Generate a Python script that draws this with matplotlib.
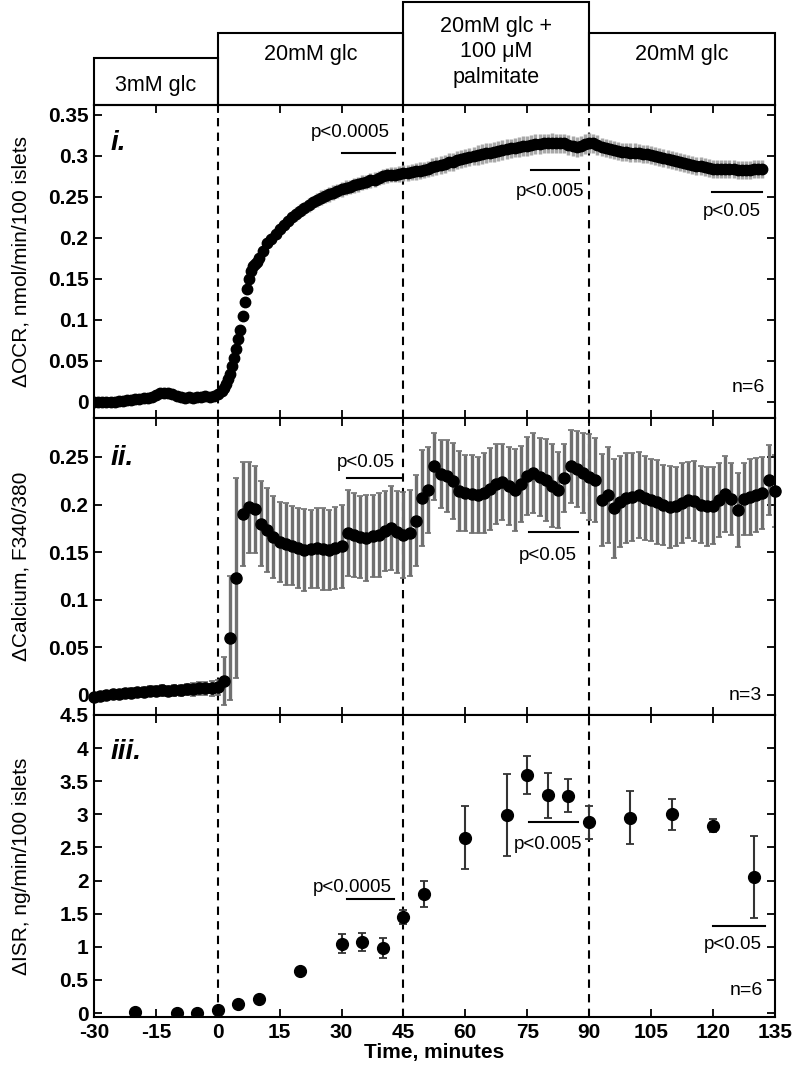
import numpy as np
import matplotlib.pyplot as plt
from matplotlib.patches import Rectangle
from matplotlib.ticker import MultipleLocator, FuncFormatter

plt.rcParams['font.family'] = ['Liberation Sans', 'DejaVu Sans']

# ---- data ----
# panel i: oxygen consumption (1-min samples, half-min during the rise)
ocr_t = np.concatenate([np.arange(-30, 1), np.arange(1, 10, 0.5), np.arange(10, 133)])
ocr = [0.000, 0.000, -0.001, 0.000, 0.000, 0.000, 0.001, 0.001, 0.002, 0.002,
       0.003, 0.003, 0.004, 0.004, 0.006, 0.008, 0.010, 0.011, 0.010, 0.009,
       0.007, 0.006, 0.005, 0.006, 0.005, 0.006, 0.006, 0.007, 0.006, 0.007, 0.009,
       0.013, 0.017, 0.022, 0.028, 0.034, 0.043, 0.053, 0.064, 0.077, 0.088,
       0.104, 0.122, 0.138, 0.150, 0.159, 0.165, 0.168, 0.171,
       0.175, 0.184, 0.193, 0.199, 0.205, 0.211, 0.216, 0.221, 0.225, 0.229,
       0.233, 0.236, 0.240, 0.243, 0.246, 0.249, 0.251, 0.253, 0.255, 0.257,
       0.259, 0.261, 0.262, 0.264, 0.265, 0.267, 0.268, 0.270, 0.271, 0.273,
       0.275, 0.276, 0.277, 0.277, 0.278, 0.279, 0.279, 0.280, 0.281, 0.282,
       0.283, 0.284, 0.286, 0.287, 0.289, 0.290, 0.292, 0.293, 0.295, 0.296,
       0.297, 0.298, 0.300, 0.301, 0.302, 0.303, 0.304, 0.305, 0.306, 0.307,
       0.308, 0.309, 0.310, 0.311, 0.312, 0.312, 0.313, 0.314, 0.314, 0.315,
       0.315, 0.316, 0.315, 0.315, 0.315, 0.313, 0.312, 0.311, 0.312, 0.314,
       0.316, 0.315, 0.313, 0.311, 0.309, 0.308, 0.307, 0.306, 0.305, 0.305,
       0.304, 0.304, 0.303, 0.302, 0.302, 0.301, 0.300, 0.299, 0.297, 0.296,
       0.295, 0.294, 0.292, 0.291, 0.290, 0.289, 0.288, 0.287, 0.286, 0.285,
       0.284, 0.284, 0.284, 0.284, 0.284, 0.284, 0.283, 0.283, 0.283, 0.283,
       0.284, 0.284, 0.284]
ocr_sem = [0.002, 0.002, 0.002, 0.002, 0.002, 0.002, 0.002, 0.002, 0.002, 0.002,
           0.002, 0.002, 0.002, 0.002, 0.002, 0.002, 0.002, 0.002, 0.002, 0.002,
           0.002, 0.002, 0.002, 0.002, 0.002, 0.002, 0.002, 0.002, 0.002, 0.002, 0.002,
           0.003, 0.003, 0.003, 0.003, 0.004, 0.004, 0.004, 0.004, 0.005, 0.005,
           0.005, 0.005, 0.005, 0.005, 0.006, 0.006, 0.006, 0.006,
           0.006, 0.006, 0.007, 0.007, 0.007, 0.007, 0.007, 0.007, 0.008, 0.008,
           0.008, 0.008, 0.008, 0.008, 0.008, 0.009, 0.009, 0.009, 0.009, 0.009,
           0.009, 0.009, 0.009, 0.009, 0.009, 0.009, 0.009, 0.009, 0.009, 0.009,
           0.009, 0.009, 0.009, 0.009, 0.010, 0.010, 0.010, 0.010, 0.010, 0.010,
           0.010, 0.010, 0.011, 0.011, 0.011, 0.011, 0.011, 0.011, 0.011, 0.011,
           0.011, 0.011, 0.011, 0.012, 0.012, 0.012, 0.012, 0.012, 0.012, 0.012,
           0.012, 0.012, 0.012, 0.012, 0.012, 0.012, 0.012, 0.012, 0.012, 0.012,
           0.012, 0.012, 0.012, 0.012, 0.012, 0.012, 0.012, 0.012, 0.012, 0.012,
           0.012, 0.012, 0.012, 0.011, 0.011, 0.011, 0.011, 0.011, 0.011, 0.011,
           0.011, 0.011, 0.011, 0.011, 0.011, 0.011, 0.011, 0.011, 0.011, 0.011,
           0.011, 0.011, 0.011, 0.011, 0.011, 0.011, 0.011, 0.011, 0.011, 0.011,
           0.011, 0.011, 0.011, 0.011, 0.011, 0.011, 0.011, 0.011, 0.011, 0.011,
           0.011, 0.011, 0.011]

# panel ii: calcium (1.5-min samples)
ca_t = np.arange(-30, 135.1, 1.5)
ca = [-0.002, -0.001, 0.000, 0.001, 0.001, 0.002, 0.002, 0.003, 0.003, 0.004,
      0.004, 0.005, 0.004, 0.005, 0.005, 0.006, 0.006, 0.007, 0.007, 0.007, 0.008,
      0.015, 0.060, 0.123, 0.190, 0.197, 0.195, 0.180, 0.173, 0.166, 0.161,
      0.159, 0.157, 0.154, 0.152, 0.153, 0.154, 0.153, 0.152, 0.154, 0.156,
      0.170, 0.168, 0.166, 0.165, 0.167, 0.168, 0.172, 0.175, 0.171, 0.168,
      0.170, 0.183, 0.207, 0.215, 0.240, 0.232, 0.230, 0.225, 0.214, 0.212,
      0.211, 0.210, 0.212, 0.216, 0.222, 0.224, 0.220, 0.215, 0.222, 0.230,
      0.233, 0.229, 0.226, 0.220, 0.215, 0.228, 0.240, 0.237, 0.233, 0.229,
      0.226, 0.205, 0.210, 0.196, 0.203, 0.207, 0.208, 0.210, 0.207, 0.205,
      0.203, 0.200, 0.197, 0.198, 0.202, 0.205, 0.204, 0.200, 0.198, 0.199,
      0.205, 0.211, 0.206, 0.194, 0.206, 0.208, 0.210, 0.212, 0.226, 0.214]
ca_sem = [0.003, 0.003, 0.004, 0.003, 0.004, 0.004, 0.005, 0.004, 0.005, 0.005,
          0.005, 0.006, 0.005, 0.006, 0.006, 0.006, 0.007, 0.007, 0.007, 0.008, 0.008,
          0.025, 0.065, 0.105, 0.055, 0.048, 0.046, 0.045, 0.044, 0.043, 0.042,
          0.043, 0.042, 0.042, 0.043, 0.041, 0.042, 0.043, 0.042, 0.043, 0.044,
          0.045, 0.044, 0.043, 0.045, 0.043, 0.044, 0.042, 0.044, 0.043, 0.045,
          0.045, 0.048, 0.050, 0.045, 0.035, 0.036, 0.038, 0.040, 0.042, 0.040,
          0.041, 0.040, 0.042, 0.043, 0.042, 0.040, 0.041, 0.043, 0.040, 0.041,
          0.042, 0.041, 0.043, 0.044, 0.040, 0.036, 0.038, 0.040, 0.042, 0.045,
          0.044, 0.048, 0.050, 0.052, 0.048, 0.047, 0.046, 0.045, 0.044, 0.043,
          0.044, 0.042, 0.043, 0.041, 0.042, 0.040, 0.042, 0.040, 0.041, 0.040,
          0.039, 0.040, 0.038, 0.039, 0.038, 0.040, 0.039, 0.038, 0.037, 0.038]

# panel iii: insulin secretion
isr_t = [-20, -10, -5, 0, 5, 10, 20, 30, 35, 40, 45, 50, 60, 70, 75, 80, 85, 90, 100, 110, 120, 130]
isr = [0.02, 0.0, 0.0, 0.05, 0.14, 0.21, 0.63, 1.05, 1.07, 0.98, 1.45, 1.80,
       2.65, 2.99, 3.59, 3.29, 3.28, 2.88, 2.95, 3.00, 2.83, 2.05]
isr_sem = [0, 0, 0, 0, 0, 0, 0.05, 0.14, 0.14, 0.15, 0.10, 0.20,
           0.47, 0.62, 0.29, 0.34, 0.25, 0.25, 0.40, 0.23, 0.10, 0.62]

box_edges = [-30, 0, 45, 90, 135]
box_labels = ['3mM glc', '20mM glc', '20mM glc +\n100 \u03bcM\npalmitate', '20mM glc']
switch_times = [0, 45, 90]

fmt = FuncFormatter(lambda v, p: '%g' % v)

fig = plt.figure(figsize=(8, 10.7), dpi=100)
ax1 = fig.add_axes([0.1175, 0.6093, 0.851, 0.2926])
ax2 = fig.add_axes([0.1175, 0.3318, 0.851, 0.2776])
ax3 = fig.add_axes([0.1175, 0.0495, 0.851, 0.2823])
axb = fig.add_axes([0.1175, 0.9019, 0.851, 0.0981])

# condition boxes on top
axb.set_xlim(-30, 135)
axb.set_ylim(0, 105)
axb.axis('off')
box_h = [47, 72, 103, 72]
text_y = [19, 50, 53, 50]
for i in range(4):
    x0, x1 = box_edges[i], box_edges[i + 1]
    axb.add_patch(Rectangle((x0, 0), x1 - x0, box_h[i], fill=False, lw=1.5,
                            ec='black', clip_on=False))
    axb.text((x0 + x1) / 2, text_y[i], box_labels[i], ha='center', va='center',
             fontsize=15.5, linespacing=1.3)

# i. OCR
ax1.errorbar(ocr_t, ocr, yerr=ocr_sem, fmt='none', ecolor='#a8a8a8', elinewidth=2.5,
             capsize=0, zorder=2)
ax1.plot(ocr_t, ocr, 'o', color='black', markersize=7.5, zorder=3)
ax1.set_ylim(-0.02, 0.362)
ax1.yaxis.set_major_locator(MultipleLocator(0.05))
ax1.set_ylabel('\u0394OCR, nmol/min/100 islets', fontsize=15)

# ii. calcium
ax2.errorbar(ca_t, ca, yerr=ca_sem, fmt='none', ecolor='#707070', elinewidth=2.4,
             capsize=2.5, capthick=1.2, zorder=2)
ax2.plot(ca_t, ca, 'o', color='black', markersize=8, zorder=3, clip_on=False)
ax2.set_ylim(-0.021, 0.291)
ax2.yaxis.set_major_locator(MultipleLocator(0.05))
ax2.set_ylabel('\u0394Calcium, F340/380', fontsize=15)

# iii. ISR
ax3.errorbar(isr_t, isr, yerr=isr_sem, fmt='o', color='black', markersize=8.5,
             ecolor='#333333', elinewidth=1.5, capsize=3, capthick=1.3, zorder=3)
ax3.set_ylim(-0.06, 4.5)
ax3.yaxis.set_major_locator(MultipleLocator(0.5))
ax3.set_ylabel('\u0394ISR, ng/min/100 islets', fontsize=15)
ax3.set_xlabel('Time, minutes', fontsize=15, fontweight='bold', labelpad=1)

for ax in (ax1, ax2, ax3):
    ax.set_xlim(-30, 135)
    ax.xaxis.set_major_locator(MultipleLocator(15))
    ax.xaxis.set_major_formatter(fmt)
    ax.yaxis.set_major_formatter(fmt)
    ax.tick_params(direction='in', top=True, right=True, length=6, width=1.3,
                   labelsize=15, pad=4)
    for lab in ax.get_xticklabels() + ax.get_yticklabels():
        lab.set_fontweight('bold')
    for s in ax.spines.values():
        s.set_linewidth(1.5)
    for t in switch_times:
        ax.axvline(t, color='black', ls=(0, (4, 3)), lw=1.5, zorder=1)
    ax.yaxis.set_label_coords(-0.093, 0.5)
ax1.tick_params(labelbottom=False)
ax2.tick_params(labelbottom=False)

# panel tags and n
for ax, tag, ty in ((ax1, 'i.', 0.88), (ax2, 'ii.', 0.865), (ax3, 'iii.', 0.877)):
    ax.text(0.024, ty, tag, transform=ax.transAxes, fontsize=20,
            fontweight='bold', fontstyle='italic', va='center')
ax1.text(0.985, 0.096, 'n=6', transform=ax1.transAxes, ha='right', va='center', fontsize=14)
ax2.text(0.981, 0.067, 'n=3', transform=ax2.transAxes, ha='right', va='center', fontsize=14)
ax3.text(0.983, 0.089, 'n=6', transform=ax3.transAxes, ha='right', va='center', fontsize=14)

# significance bars: (axis, x0, x1, line y, label, text x, text y)
sig = [(ax1, 30, 43, 0.304, 'p<0.0005', 32, 0.329),
       (ax1, 76, 87.6, 0.283, 'p<0.005', 80.5, 0.256),
       (ax1, 119.7, 132, 0.256, 'p<0.05', 124.6, 0.232),
       (ax2, 31.4, 44.3, 0.228, 'p<0.05', 35.8, 0.244),
       (ax2, 75.4, 87.3, 0.171, 'p<0.05', 80, 0.147),
       (ax3, 31.4, 42.6, 1.72, 'p<0.0005', 32.6, 1.89),
       (ax3, 75.4, 87.3, 2.88, 'p<0.005', 80, 2.54),
       (ax3, 120, 132.6, 1.31, 'p<0.05', 124.8, 1.03)]
for ax, x0, x1, ly, lab, tx, ty in sig:
    ax.plot([x0, x1], [ly, ly], color='black', lw=1.5, zorder=4)
    ax.text(tx, ty, lab, ha='center', va='center', fontsize=13.5, zorder=5)

plt.savefig('out.png', dpi=100)
